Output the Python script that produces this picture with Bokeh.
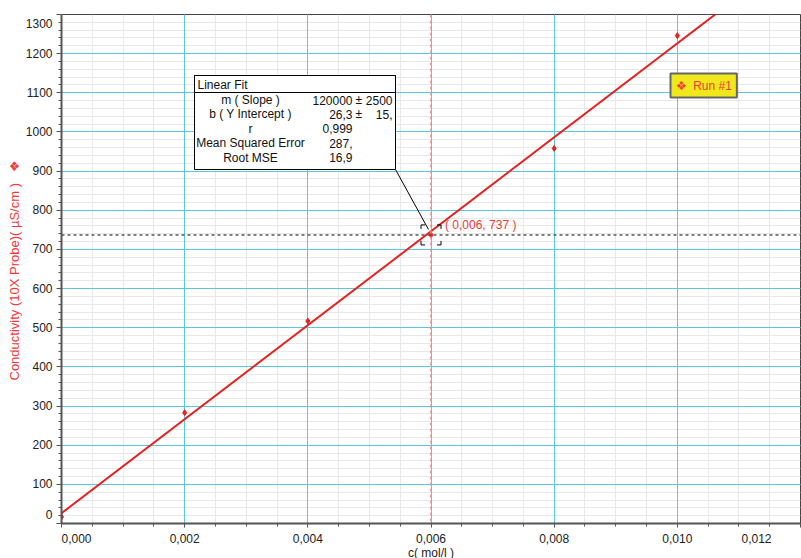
import numpy as np
from bokeh.plotting import figure
from bokeh.models import Range1d, FixedTicker, Label, BoxAnnotation, Span, Grid, Title
from bokeh.embed import file_html
from bokeh.resources import INLINE

# ---- data ----
conc = [0.000, 0.002, 0.004, 0.006, 0.008, 0.010]
conductivity = [17, 283, 517, 737, 958, 1246]
fit_slope = 120000
fit_intercept = 26.3
cursor_x = 0.006
cursor_y = 737
x_ticks = [0.000, 0.002, 0.004, 0.006, 0.008, 0.010, 0.012]
x_tick_labels = ["0,000", "0,002", "0,004", "0,006", "0,008", "0,010", "0,012"]
y_ticks = [0, 100, 200, 300, 400, 500, 600, 700, 800, 900, 1000, 1100, 1200, 1300]
y_tick_labels = ["0", "100", "200", "300", "400", "500", "600", "700", "800",
                 "900", "1000", "1100", "1200", "1300"]
fit_title = "Linear Fit"
fit_rows = [
    ("m ( Slope )", "120000", "±", "2500"),
    ("b ( Y Intercept )", "26,3", "±", "15,"),
    ("r", "0,999", "", ""),
    ("Mean Squared Error", "287,", "", ""),
    ("Root MSE", "16,9", "", ""),
]
series_name = "Run #1"
x_title = "c( mol/l )"
y_title = "Conductivity (10X Probe)( µS/cm )"

# ---- layout / style ----
FONT = "Liberation Sans"
RED = "#e52222"
RED_TXT = "#f03a3a"
CYAN = "#5cc8dc"
MINOR = "#e8e8e8"
AXIS = "#555555"
YELLOW = "#f0e81c"
NB = "\u00a0"

X0, X1 = x_ticks[0], x_ticks[-1]
Y0, Y1 = y_ticks[0], y_ticks[-1]
FL, FT, FW, FH = 61, 14, 739, 509   # frame position on the page (px)


def px2x(px):
    return X0 + (px - FL) / FW * (X1 - X0)


def py2y(py):
    return Y0 + (FT + FH - py) / FH * (Y1 - Y0)


p = figure(frame_width=FW, frame_height=FH,
           min_border_left=FL, min_border_top=FT,
           min_border_right=1, min_border_bottom=34,
           x_range=Range1d(X0, X1), y_range=Range1d(Y0, Y1),
           output_backend="svg", toolbar_location=None, title=None)
p.background_fill_color = "white"
p.border_fill_color = "white"
p.outline_line_color = "#444444"
p.outline_line_width = 1

x_minor = list(np.round(np.arange(X0, X1 + 1e-9, 0.0005), 6))
y_minor = list(np.arange(Y0, Y1 + 1, 20))
xt = FixedTicker(ticks=x_ticks, minor_ticks=x_minor)
yt = FixedTicker(ticks=y_ticks, minor_ticks=y_minor)
p.xaxis.ticker = xt
p.yaxis.ticker = yt

xo = {t: l for t, l in zip(x_ticks, x_tick_labels)}
xo[x_ticks[0]] = NB * 9 + x_tick_labels[0]
xo[x_ticks[-1]] = x_tick_labels[-1] + NB * 9
yo = {t: l for t, l in zip(y_ticks, y_tick_labels)}
yo[y_ticks[0]] = y_tick_labels[0] + "\n" + NB
yo[y_ticks[-1]] = NB + "\n" + y_tick_labels[-1]
p.xaxis.major_label_overrides = xo
p.yaxis.major_label_overrides = yo

for ax in (p.xaxis[0], p.yaxis[0]):
    ax.axis_line_color = AXIS
    ax.axis_line_width = 2
    ax.major_tick_line_color = AXIS
    ax.minor_tick_line_color = AXIS
    ax.major_tick_in = 0
    ax.minor_tick_in = 0
    ax.major_label_text_font = FONT
    ax.major_label_text_font_size = "12px"
    ax.major_label_text_color = "#222222"
p.xaxis.major_tick_out = 4
p.xaxis.minor_tick_out = 3
p.xaxis.major_label_standoff = 4
p.xaxis.axis_label = x_title
p.xaxis.axis_label_standoff = -3
p.xaxis.axis_label_text_font = FONT
p.xaxis.axis_label_text_font_size = "12px"
p.xaxis.axis_label_text_font_style = "normal"
p.xaxis.axis_label_text_color = "#222222"
p.yaxis.major_tick_out = 5
p.yaxis.minor_tick_out = 3
p.yaxis.major_label_standoff = 4

# minor grid first, then cyan major grid on top of it
p.xgrid.grid_line_color = None
p.ygrid.grid_line_color = None
p.xgrid.minor_grid_line_color = MINOR
p.ygrid.minor_grid_line_color = MINOR
p.add_layout(Grid(dimension=0, ticker=xt, grid_line_color=CYAN))
p.add_layout(Grid(dimension=1, ticker=yt, grid_line_color=CYAN))

# y axis title (with the series icon at its end)
p.add_layout(Title(text=y_title + NB + NB + NB + "\u2756", align="left", offset=143,
                   standoff=2, text_font=FONT, text_font_size="13px",
                   text_font_style="normal", text_color=RED_TXT), "left")

# fit line
fit_x = [X0, X1]
fit_y = [fit_slope * v + fit_intercept for v in fit_x]
p.line(fit_x, fit_y, line_color=RED, line_width=2)

# data points
p.scatter(conc, conductivity, marker="diamond", size=6, color=RED)

# cursor
p.add_layout(Span(location=cursor_x, dimension="height", line_color="#f08a8a",
                  line_dash="3 3", line_width=1.5))
p.add_layout(Span(location=cursor_y, dimension="width", line_color="#555555",
                  line_dash="3 3", line_width=1.5))
p.rect(x=[cursor_x], y=[cursor_y], width=20, height=20, width_units="screen",
       height_units="screen", fill_alpha=0, line_color="black", line_width=1,
       line_dash="4 12 4 0")
p.add_layout(Label(x=cursor_x, y=cursor_y,
                   text="( %s, %d )" % (("%.3f" % cursor_x).replace(".", ","), cursor_y),
                   x_offset=14, y_offset=10, text_baseline="middle", text_align="left",
                   text_font=FONT, text_font_size="12px", text_color=RED_TXT))

# leader line from the fit box to the cursor
p.segment(x0=[px2x(395)], y0=[py2y(169)], x1=[px2x(428)], y1=[py2y(229)],
          line_color="black", line_width=1)

# fit box
p.add_layout(BoxAnnotation(left=px2x(194), right=px2x(395), top=py2y(75),
                           bottom=py2y(169), fill_color="white", fill_alpha=1,
                           line_color="black", line_width=1, line_alpha=1))
p.add_layout(BoxAnnotation(left=px2x(194), right=px2x(395), top=py2y(75),
                           bottom=py2y(92), fill_alpha=0,
                           line_color="black", line_width=1, line_alpha=1))
p.add_layout(Label(x=px2x(197), y=py2y(84), text=fit_title, text_align="left",
                   text_baseline="middle", text_font=FONT, text_font_size="12px",
                   text_color="#111111"))
row_py = [99.5, 113.5, 128, 142.5, 157]
for (name, val, pm, err), ry in zip(fit_rows, row_py):
    yy = py2y(ry)
    p.add_layout(Label(x=px2x(250), y=yy, text=name, text_align="center",
                       text_baseline="middle", text_font=FONT, text_font_size="12px",
                       text_color="#111111"))
    p.add_layout(Label(x=px2x(352), y=yy, text=val, text_align="right",
                       text_baseline="middle", text_font=FONT, text_font_size="12px",
                       text_color="#111111"))
    if pm:
        p.add_layout(Label(x=px2x(355), y=yy, text=pm, text_align="left",
                           text_baseline="middle", text_font=FONT, text_font_size="12px",
                           text_color="#111111"))
    if err:
        p.add_layout(Label(x=px2x(392), y=yy, text=err, text_align="right",
                           text_baseline="middle", text_font=FONT, text_font_size="12px",
                           text_color="#111111"))

# series legend box
p.add_layout(Label(x=px2x(670), y=py2y(85), text="\u2756" + NB + NB + series_name,
                   text_align="left", text_baseline="middle", text_font=FONT,
                   text_font_size="12px", text_color=RED_TXT,
                   background_fill_color=YELLOW, background_fill_alpha=1,
                   border_line_color="#666666", border_line_width=2, padding=5))

open("out.html", "w").write(file_html(p, INLINE))
